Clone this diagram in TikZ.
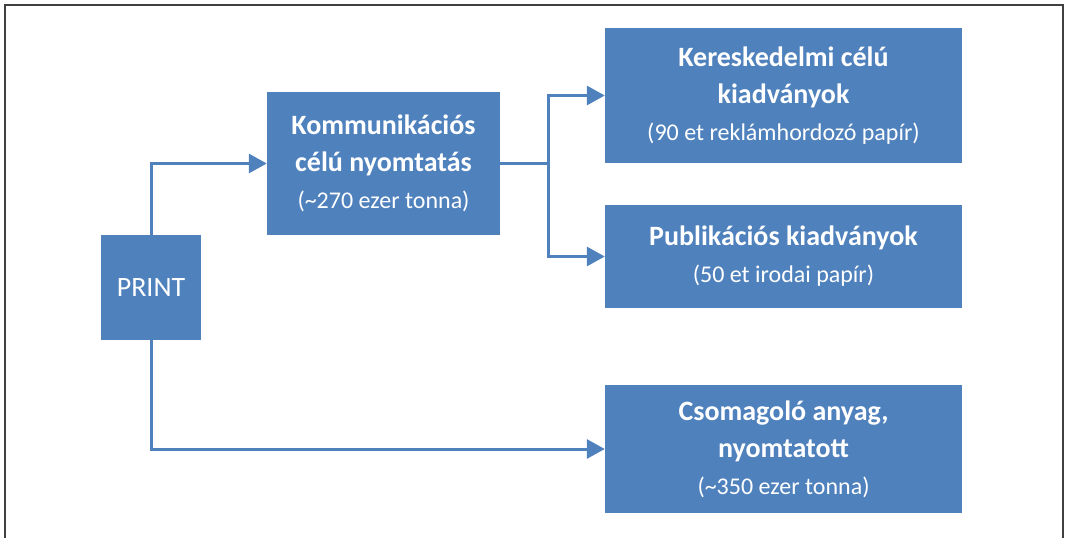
\documentclass[tikz,border=0pt]{standalone}
\usepackage{fontspec}
\setmainfont{Carlito}
\usetikzlibrary{arrows.meta}
\newcommand{\subtxt}{\fontsize{24}{37}\selectfont\mdseries}

\begin{document}
\begin{tikzpicture}[x=1pt, y=-1pt,
  box/.style={fill=boxblue, text=white, inner sep=0pt, align=center,
    font=\fontsize{28}{37}\selectfont\bfseries},
  conn/.style={draw=boxblue, line width=3pt, -{Triangle[length=18pt, width=19pt]}}]
  \definecolor{boxblue}{HTML}{4F81BD}
  \useasboundingbox (0, 0) rectangle (1068, 538);
  % frame, open at the bottom
  \draw[line width=2pt, draw=black!75] (5, 540) -- (5, 5) -- (1063, 5) -- (1063, 540);
  % boxes
  \node[box, minimum width=100pt, minimum height=105pt] (print) at (151, 287.5) {\mdseries PRINT};
  \node[box, minimum width=233pt, minimum height=143pt] (komm) at (383.5, 163.5)
    {Kommunikációs\\célú nyomtatás\\{\subtxt (\textasciitilde 270 ezer tonna)}};
  \node[box, minimum width=357pt, minimum height=135pt] (keresk) at (783.5, 95.5)
    {Kereskedelmi célú\\kiadványok\\{\subtxt (90 et reklámhordozó papír)}};
  \node[box, minimum width=357pt, minimum height=103pt] (publ) at (783.5, 256.5)
    {Publikációs kiadványok\\{\subtxt (50 et irodai papír)}};
  \node[box, minimum width=357pt, minimum height=128pt] (csomag) at (783.5, 449)
    {Csomagoló anyag,\\nyomtatott\\{\subtxt (\textasciitilde 350 ezer tonna)}};
  % connectors
  \draw[conn] (print.north) |- (komm.west);
  \coordinate (fork) at (548, 163.5);
  \draw[draw=boxblue, line width=3pt] (komm.east) -- (fork);
  \draw[conn] (fork) |- (keresk.west);
  \draw[conn] (fork) |- (publ.west);
  \draw[conn] (print.south) |- (csomag.west);
\end{tikzpicture}
\end{document}
